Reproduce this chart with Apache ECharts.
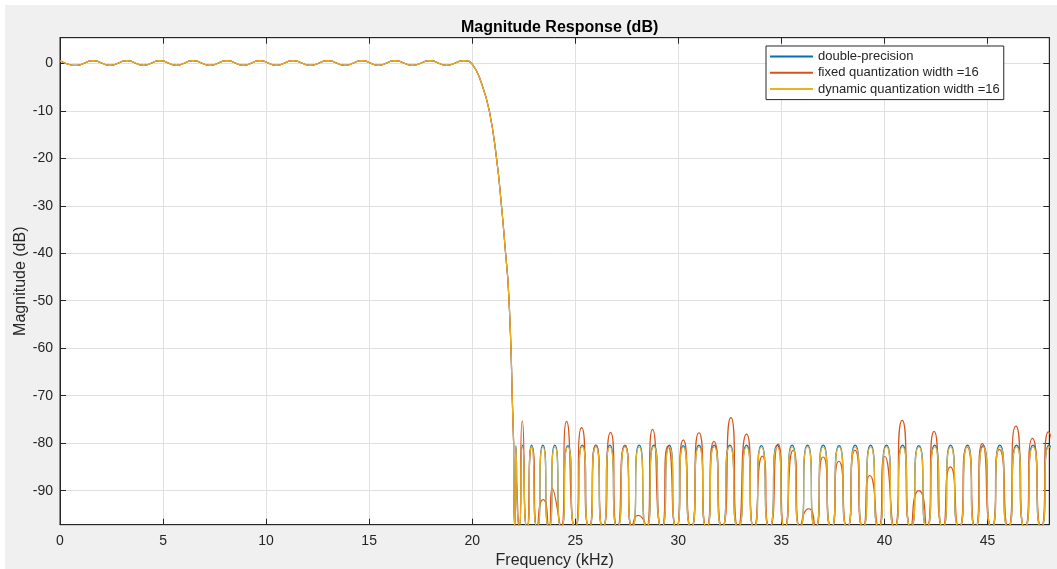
<!DOCTYPE html>
<html>
<head>
<meta charset="UTF-8">
<title>Magnitude Response (dB)</title>
<script type="text/javascript" src="https://cdn.jsdelivr.net/npm/echarts@6/dist/echarts.min.js"></script>
<style>
body { margin: 0; background: #ffffff; }
#div { position: absolute; left: 5px; top: 5px; width: 1052px; height: 564px; background: #f0f0f0; }
</style>
</head>
<body>
	<div id="div"></div>

	<script type="text/javascript">
		// passband ripple (all three filters sit on top of each other here)
		var passFreq = [0, 0.8, 1.6, 2.43, 3.25, 4.05, 4.85, 5.65, 6.45, 7.28, 8.1, 8.9, 9.7,
			10.5, 11.3, 12.15, 13.0, 13.83, 14.65, 15.45, 16.25, 17.1, 17.95, 18.75, 19.6];
		var passMag = [0.55, -0.45, 0.55, -0.45, 0.55, -0.45, 0.55, -0.45, 0.55, -0.45, 0.55, -0.45, 0.55,
			-0.45, 0.55, -0.45, 0.55, -0.45, 0.55, -0.45, 0.55, -0.45, 0.55, -0.45, 0.55];

		// transition band
		var transFreq = [20.0, 20.45, 20.83, 21.18, 21.42, 21.62, 21.75, 21.88, 21.94, 22.01];
		var transMag = [-0.15, -4.2, -10, -20, -30, -40, -47, -60, -70, -80];

		// stopband: nulls (just below the visible range) and lobe peaks
		var nullFreq = [22.06, 22.28, 22.66, 23.15, 23.72, 24.32, 24.99, 25.67, 26.34, 27.04, 27.76,
			28.46, 29.19, 29.9, 30.62, 31.37, 32.12, 32.9, 33.67, 34.42, 35.16, 35.9, 36.65, 37.42,
			38.19, 38.96, 39.72, 40.49, 41.28, 42.06, 42.83, 43.62, 44.41, 45.2, 46.0, 46.81, 47.6, 48.37];
		var NULL_DB = -97.8;

		var peakFreq = [22.12, 22.44, 22.88, 23.43, 24.01, 24.64, 25.34, 26.00, 26.68, 27.41, 28.10,
			28.81, 29.56, 30.24, 31.00, 31.74, 32.50, 33.31, 34.03, 34.80, 35.52, 36.27, 37.03, 37.80,
			38.58, 39.33, 40.10, 40.88, 41.67, 42.44, 43.21, 44.03, 44.79, 45.60, 46.41, 47.21, 47.98];
		var doubleMag = [-80.5, -80.4, -80.4, -80.4, -80.4, -80.5, -80.4, -80.4, -80.4, -80.5, -80.4,
			-80.4, -80.4, -80.5, -80.4, -80.4, -80.4, -80.4, -80.5, -80.4, -80.4, -80.4, -80.4, -80.5,
			-80.4, -80.4, -80.4, -80.4, -80.5, -80.4, -80.4, -80.4, -80.5, -80.4, -80.4, -80.4, -80.4];
		var dynamicMag = [-80.8, -80.8, -80.7, -80.8, -80.8, -80.8, -80.7, -80.8, -80.8, -80.8, -80.8,
			-80.7, -80.8, -80.8, -80.8, -80.8, -80.7, -80.8, -80.8, -80.8, -80.8, -80.7, -80.8, -80.8,
			-80.8, -80.8, -80.7, -80.8, -80.8, -80.8, -80.8, -80.7, -80.8, -80.8, -80.8, -80.8, -80.7];

		var fixedFreq = [22.12, 22.43, 22.90, 23.44, 23.88, 24.58, 25.31, 26.00, 26.71, 27.41, 28.05,
			28.75, 29.50, 30.24, 31.00, 31.73, 32.55, 33.31, 34.08, 34.84, 35.57, 36.33, 37.03, 37.79,
			38.57, 39.29, 40.02, 40.86, 41.67, 42.41, 43.20, 44.01, 44.75, 45.58, 46.38, 47.18, 47.95];
		var fixedMag = [-86.8, -75.3, -80.8, -91.9, -89.5, -75.4, -76.7, -80.4, -77.7, -80.4, -95.2,
			-77.1, -80.6, -79.3, -77.8, -79.6, -74.6, -78.1, -82.7, -80.2, -81.5, -93.8, -82.9, -83.8,
			-81.5, -86.8, -82.8, -75.2, -90.0, -77.5, -85.0, -80.8, -80.1, -81.3, -76.4, -79.0, -77.6];

		var names = ['double-precision', 'fixed quantization width =16', 'dynamic quantization width =16'];
		var colors = ['#0072BD', '#D95319', '#EDB120'];

		// passband + transition points
		function buildPass() {
			var pts = [];
			for (var i = 0; i < passFreq.length; i++) pts.push([passFreq[i], passMag[i]]);
			for (var i = 0; i < transFreq.length; i++) pts.push([transFreq[i], transMag[i]]);
			return pts;
		}
		// stopband lobes, starting where the transition ends
		function buildStop(pf, pm) {
			var last = transFreq.length - 1;
			var pts = [[transFreq[last], transMag[last]]];
			for (var i = 0; i < nullFreq.length; i++) {
				pts.push([nullFreq[i], NULL_DB]);
				if (i < pf.length) pts.push([pf[i], pm[i]]);
			}
			return pts;
		}

		var font = "'Liberation Sans', Arial, Helvetica, sans-serif";
		var mychart = echarts.init(document.getElementById('div'));

		function mkSeries(idx, pts, smooth) {
			return {
				name: names[idx],
				type: 'line',
				data: pts,
				showSymbol: false,
				smooth: smooth,
				clip: true,
				color: colors[idx],
				lineStyle: { width: 1.2, color: colors[idx] }
			};
		}

		var axisCommonX = {
			type: 'value', min: 0, max: 48, interval: 5,
			axisLine: { onZero: false, lineStyle: { color: '#262626', width: 1 } },
			axisTick: { inside: true, length: 6, lineStyle: { color: '#262626' } }
		};
		var axisCommonY = {
			type: 'value', min: -97.16, max: 5.39, splitNumber: 10,
			axisLine: { onZero: false, lineStyle: { color: '#262626', width: 1 } },
			axisTick: { inside: true, length: 6, lineStyle: { color: '#262626' } }
		};

		var series = [];
		for (var k = 0; k < 3; k++) {
			var pf = k === 1 ? fixedFreq : peakFreq;
			var pm = k === 0 ? doubleMag : (k === 1 ? fixedMag : dynamicMag);
			series.push(mkSeries(k, buildPass(), 0.5));
			series.push(mkSeries(k, buildStop(pf, pm), 1));
		}

		var option = {
			animation: false,
			textStyle: { fontFamily: font },
			title: {
				text: 'Magnitude Response (dB)',
				left: 549.6,
				top: 10,
				textAlign: 'center',
				textStyle: { fontFamily: font, fontSize: 16, fontWeight: 'bold', color: '#000000' }
			},
			legend: {
				data: names,
				orient: 'vertical',
				left: 761,
				top: 41,
				padding: [4, 4, 4, 4],
				itemGap: 3.3,
				itemWidth: 43,
				itemHeight: 2,
				icon: 'rect',
				backgroundColor: '#ffffff',
				borderColor: '#262626',
				borderWidth: 1,
				borderRadius: 0,
				textStyle: { fontFamily: font, fontSize: 13, color: '#262626' }
			},
			grid: {
				left: 55, right: 7.7, top: 32.7, bottom: 44.3,
				outerBoundsMode: 'none',
				containLabel: false,
				show: true, backgroundColor: '#ffffff', borderColor: '#262626', borderWidth: 1
			},
			xAxis: [
				Object.assign({}, axisCommonX, {
					position: 'bottom',
					name: 'Frequency (kHz)', nameLocation: 'middle', nameGap: 28,
					nameMoveOverlap: false,
					nameTextStyle: { fontFamily: font, fontSize: 16, color: '#262626' },
					axisLabel: { margin: 9, fontSize: 14, color: '#262626', fontFamily: font, showMaxLabel: false },
					splitLine: { show: true, lineStyle: { color: '#e0e0e0', width: 1 } }
				}),
				Object.assign({}, axisCommonX, {
					position: 'top',
					axisLabel: { show: false },
					splitLine: { show: false }
				})
			],
			yAxis: [
				Object.assign({}, axisCommonY, {
					position: 'left',
					name: 'Magnitude (dB)', nameLocation: 'middle', nameGap: 31,
					nameMoveOverlap: false,
					nameTextStyle: { fontFamily: font, fontSize: 16, color: '#262626' },
					axisLabel: { margin: 7, fontSize: 14, color: '#262626', fontFamily: font, showMinLabel: false, showMaxLabel: false },
					splitLine: { show: true, lineStyle: { color: '#e0e0e0', width: 1 } }
				}),
				Object.assign({}, axisCommonY, {
					position: 'right',
					axisLabel: { show: false },
					splitLine: { show: false }
				})
			],
			series: series
		};
		mychart.setOption(option);
	</script>
</body>
</html>
